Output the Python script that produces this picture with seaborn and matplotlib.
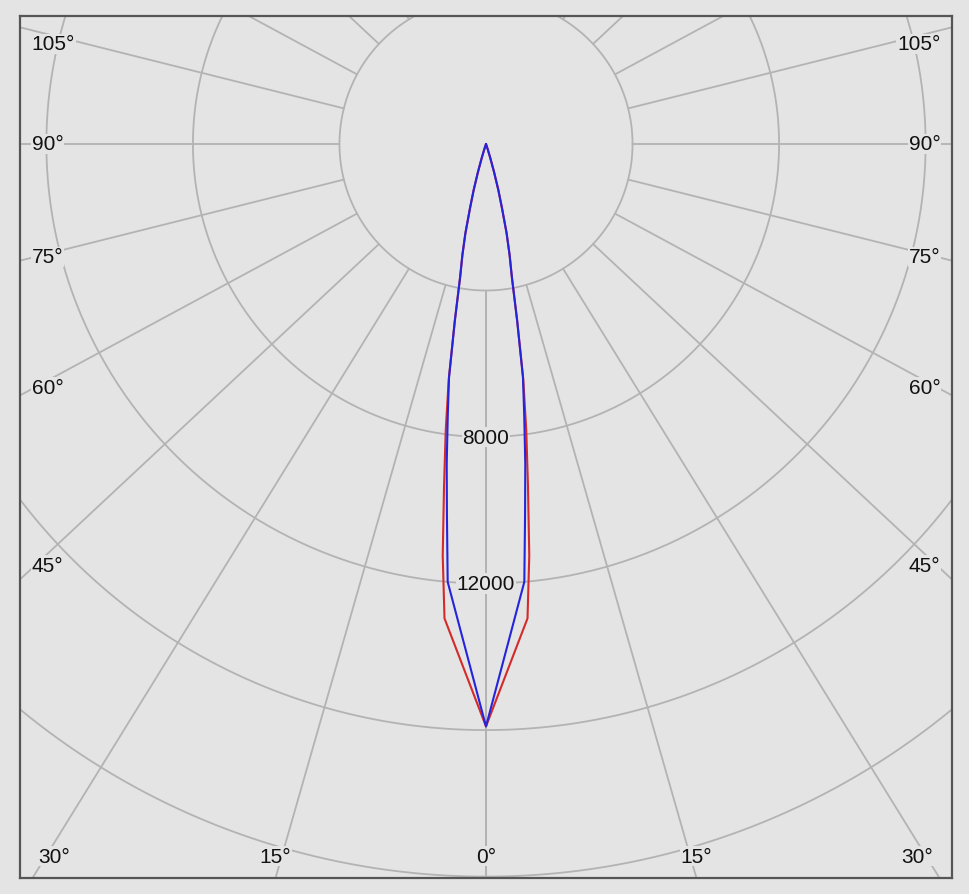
import numpy as np
import pandas as pd
import matplotlib.pyplot as plt
import seaborn as sns

# luminous intensity (cd) per gamma angle for the two C-planes
gamma = [0, 5, 6, 7, 8, 9, 10, 11, 12, 13, 14, 15, 16, 17, 18, 19, 90]
red_cd = [15900, 13000, 11300, 9400, 7900, 6500, 4900, 3700, 3100, 2500, 1800, 1300, 800, 400, 150, 0, 0]
blue_cd = [15900, 12000, 10200, 8800, 7500, 6450, 4900, 3700, 3100, 2500, 1800, 1300, 800, 400, 150, 0, 0]

rings = [4000, 8000, 12000, 16000, 20000]
ring_labels = [8000, 12000]
side_angles = [45, 60, 75, 90, 105]
bottom_angles = [0, 15, 30]

bg = '#e4e4e4'
grid_c = '#b3b3b3'
stretch = 1.07   # the radial grid in the original is drawn slightly wider than true angle

sns.set_theme(style='white', rc={'figure.facecolor': bg, 'axes.facecolor': bg})
plt.rcParams['font.family'] = ['Liberation Sans', 'DejaVu Sans']

# build closed outline for each plane: left half then right half
rows = []
for plane, vals in [('C0-C180', red_cd), ('C90-C270', blue_cd)]:
    g = np.radians(gamma)
    v = np.array(vals, dtype=float)
    for gg, ii in zip(g[::-1], v[::-1]):
        rows.append((plane, -ii * np.sin(gg), -ii * np.cos(gg)))
    for gg, ii in zip(g, v):
        rows.append((plane, ii * np.sin(gg), -ii * np.cos(gg)))
df = pd.DataFrame(rows, columns=['plane', 'x', 'y'])

fig = plt.figure(figsize=(9.69, 8.95), dpi=100)
ax = fig.add_axes([20 / 969, 16 / 895, 932 / 969, 862 / 895])

# grid rings
t = np.linspace(0, 2 * np.pi, 720)
for r in rings:
    ax.plot(r * np.cos(t), r * np.sin(t), color=grid_c, lw=1.3, zorder=1)

# radial lines every 15 deg, starting at the first ring
for a in range(0, 181, 15):
    ar = np.radians(a)
    dx, dy = stretch * np.sin(ar), -np.cos(ar)
    n = np.hypot(dx, dy)
    dx, dy = dx / n, dy / n
    for s in (-1, 1):
        ax.plot([s * rings[0] * dx, s * 40000 * dx], [rings[0] * dy, 40000 * dy],
                color=grid_c, lw=1.3, zorder=1)

sns.lineplot(data=df, x='x', y='y', hue='plane', sort=False, estimator=None,
             palette={'C0-C180': '#d42a2a', 'C90-C270': '#2424dc'},
             legend=False, lw=1.5, ax=ax, zorder=3)

box = dict(facecolor=bg, edgecolor='none', pad=0.5)
fs = 15
tc = '#111111'

for v in ring_labels:
    ax.text(0, -v, str(v), ha='center', va='center', fontsize=fs, color=tc, bbox=box, zorder=4)

for a in side_angles:
    y = min(-12310 / (stretch * np.tan(np.radians(a))), 2730)
    ax.text(-12400, y, f'{a}°', ha='left', va='center', fontsize=fs, color=tc, bbox=box, zorder=4)
    ax.text(12400, y, f'{a}°', ha='right', va='center', fontsize=fs, color=tc, bbox=box, zorder=4)

for a in bottom_angles:
    x = min(20038 * stretch * np.tan(np.radians(a)), 11780)
    for s in ((1,) if a == 0 else (-1, 1)):
        ax.text(s * x, -19440, f'{a}°', ha='center', va='center', fontsize=fs, color=tc, bbox=box, zorder=4)

ax.set_xlim(-12720, 12720)
ax.set_ylim(-20038, 3494)
ax.set_xticks([])
ax.set_yticks([])
ax.set_xlabel('')
ax.set_ylabel('')
for sp in ax.spines.values():
    sp.set_color('#555555')
    sp.set_linewidth(1.6)

fig.savefig('out.png', dpi=100, facecolor=bg)
